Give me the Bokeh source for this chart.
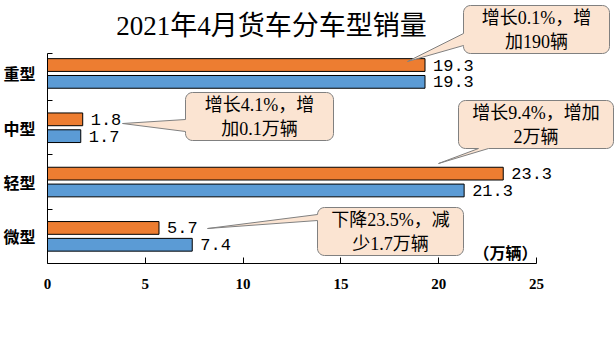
import math
from bokeh.plotting import figure
from bokeh.models import (Range1d, FixedTicker, LabelSet, Label, PolyAnnotation,
                          ColumnDataSource)
from bokeh.core.properties import value
from bokeh.embed import file_html
from bokeh.resources import INLINE

# ---------------- data ----------------
categories = ["重型", "中型", "轻型", "微型"]          # top to bottom
sales_2021_apr = [19.3, 1.8, 23.3, 5.7]               # orange (upper bar)
sales_2020_apr = [19.3, 1.7, 21.3, 7.4]               # blue (lower bar)
x_ticks = [0, 5, 10, 15, 20, 25]
title_text = "2021年4月货车分车型销量"
unit_text = "（万辆）"
callout_texts = ["增长0.1%，增\n加190辆",
                 "增长4.1%，增\n加0.1万辆",
                 "增长9.4%，增加\n2万辆",
                 "下降23.5%，减\n少1.7万辆"]

# ---------------- layout ----------------
W, H = 615, 342
FL, FR, FT, FB = 47, 536, 53, 263          # axis box edges in pixels
X_MAX = x_ticks[-1]
BAND_PX = 54.3
Y_TOP = (FB - FT) / BAND_PX
OFF = 0.155
BAR_H = 0.235

SERIF_CJK = "'Liberation Serif', 'Noto Sans CJK SC'"
CJK = "Noto Sans CJK SC"


def dx(px):
    return (px - FL) / (FR - FL) * X_MAX


def dy(py):
    return (FB - py) / (FB - FT) * Y_TOP


n = len(categories)
pos = [n - 0.5 - i for i in range(n)]

p = figure(width=W, height=H,
           x_range=Range1d(0, dx(W)), y_range=Range1d(0, dy(0)),
           output_backend="svg", toolbar_location=None,
           min_border_left=FL, min_border_right=0,
           min_border_top=0, min_border_bottom=H - FB)
p.outline_line_color = None
p.xgrid.visible = False
p.ygrid.visible = False
p.background_fill_color = "white"
p.border_fill_color = "white"

src_a = ColumnDataSource(dict(y=[v + OFF for v in pos], right=sales_2021_apr,
                              txt=[f"{v:.1f}" for v in sales_2021_apr]))
src_b = ColumnDataSource(dict(y=[v - OFF for v in pos], right=sales_2020_apr,
                              txt=[f"{v:.1f}" for v in sales_2020_apr]))

p.hbar(y="y", right="right", left=0, height=BAR_H, source=src_a,
       fill_color="#ED7D31", line_color="black", line_width=1)
p.hbar(y="y", right="right", left=0, height=BAR_H, source=src_b,
       fill_color="#5B9BD5", line_color="black", line_width=1)

for s in (src_a, src_b):
    p.add_layout(LabelSet(x="right", y="y", text="txt", source=s, x_offset=8,
                          text_baseline="middle", text_align="left",
                          text_font=value("Liberation Mono"),
                          text_font_size="17px", text_color="black"))

# axes
xa = p.xaxis[0]
xa.bounds = (0, X_MAX)
xa.ticker = FixedTicker(ticks=x_ticks)
xa.major_tick_in = 6
xa.major_tick_out = 0
xa.minor_tick_in = 0
xa.minor_tick_out = 0
xa.axis_line_color = "black"
xa.major_tick_line_color = "black"
xa.major_label_standoff = 15
xa.major_label_text_font = "Liberation Serif"
xa.major_label_text_font_size = "15px"
xa.major_label_text_font_style = "bold"
xa.major_label_text_color = "black"

ya = p.yaxis[0]
ya.bounds = (0, Y_TOP)
ya.ticker = FixedTicker(ticks=pos, minor_ticks=[1, 2, 3, Y_TOP - 1e-6])
ya.major_label_overrides = {v: c for v, c in zip(pos, categories)}
ya.major_tick_in = 0
ya.major_tick_out = 0
ya.minor_tick_in = 5
ya.minor_tick_out = 0
ya.minor_tick_line_color = "black"
ya.axis_line_color = "black"
ya.major_label_standoff = 12
ya.major_label_text_font = CJK
ya.major_label_text_font_size = "16px"
ya.major_label_text_font_style = "bold"
ya.major_label_text_color = "black"

# callouts: box (l, t, r, b) in px, pointer side, base span, tip (px)
callouts = [
    dict(box=(463, 5, 609, 53), side="left", base=(33, 45), tip=(407, 61)),
    dict(box=(185, 92, 333, 140), side="left", base=(119, 131), tip=(122, 123)),
    dict(box=(458, 100, 613, 148), side="bottom", base=(478, 488), tip=(438, 163)),
    dict(box=(317, 207, 463, 255), side="left", base=(214, 220), tip=(207, 228)),
]
RAD = 7


def callout_poly(l, t, r, b, side, base, tip):
    pts = []

    def arc(cx, cy, a0, a1):
        for k in range(7):
            a = math.radians(a0 + (a1 - a0) * k / 6)
            pts.append((cx + RAD * math.cos(a), cy + RAD * math.sin(a)))

    arc(l + RAD, t + RAD, 180, 270)
    arc(r - RAD, t + RAD, 270, 360)
    arc(r - RAD, b - RAD, 0, 90)
    if side == "bottom":
        pts.extend([(base[1], b), tip, (base[0], b)])
    arc(l + RAD, b - RAD, 90, 180)
    if side == "left":
        pts.extend([(l, base[1]), tip, (l, base[0])])
    return pts


for c, txt in zip(callouts, callout_texts):
    l, t, r, b = c["box"]
    pts = callout_poly(l, t, r, b, c["side"], c["base"], c["tip"])
    p.add_layout(PolyAnnotation(xs=[dx(x) for x, _ in pts], ys=[dy(y) for _, y in pts],
                                fill_color="#FBE4D2", fill_alpha=1.0,
                                line_color="#808080", line_alpha=1.0, line_width=1))
    p.add_layout(Label(x=dx((l + r) / 2), y=dy((t + b) / 2), text=txt,
                       text_align="center", text_baseline="middle",
                       text_font=SERIF_CJK, text_font_size="18px",
                       text_color="black", text_line_height=1.2))

p.add_layout(Label(x=dx(271), y=dy(25.5), text=title_text, text_align="center",
                   text_baseline="middle", text_font=SERIF_CJK,
                   text_font_size="27px", text_color="black"))
p.add_layout(Label(x=dx(505), y=dy(251), text=unit_text, text_align="center",
                   text_baseline="middle", text_font=CJK, text_font_style="bold",
                   text_font_size="16px", text_color="black"))

open("out.html", "w").write(file_html(p, INLINE))
